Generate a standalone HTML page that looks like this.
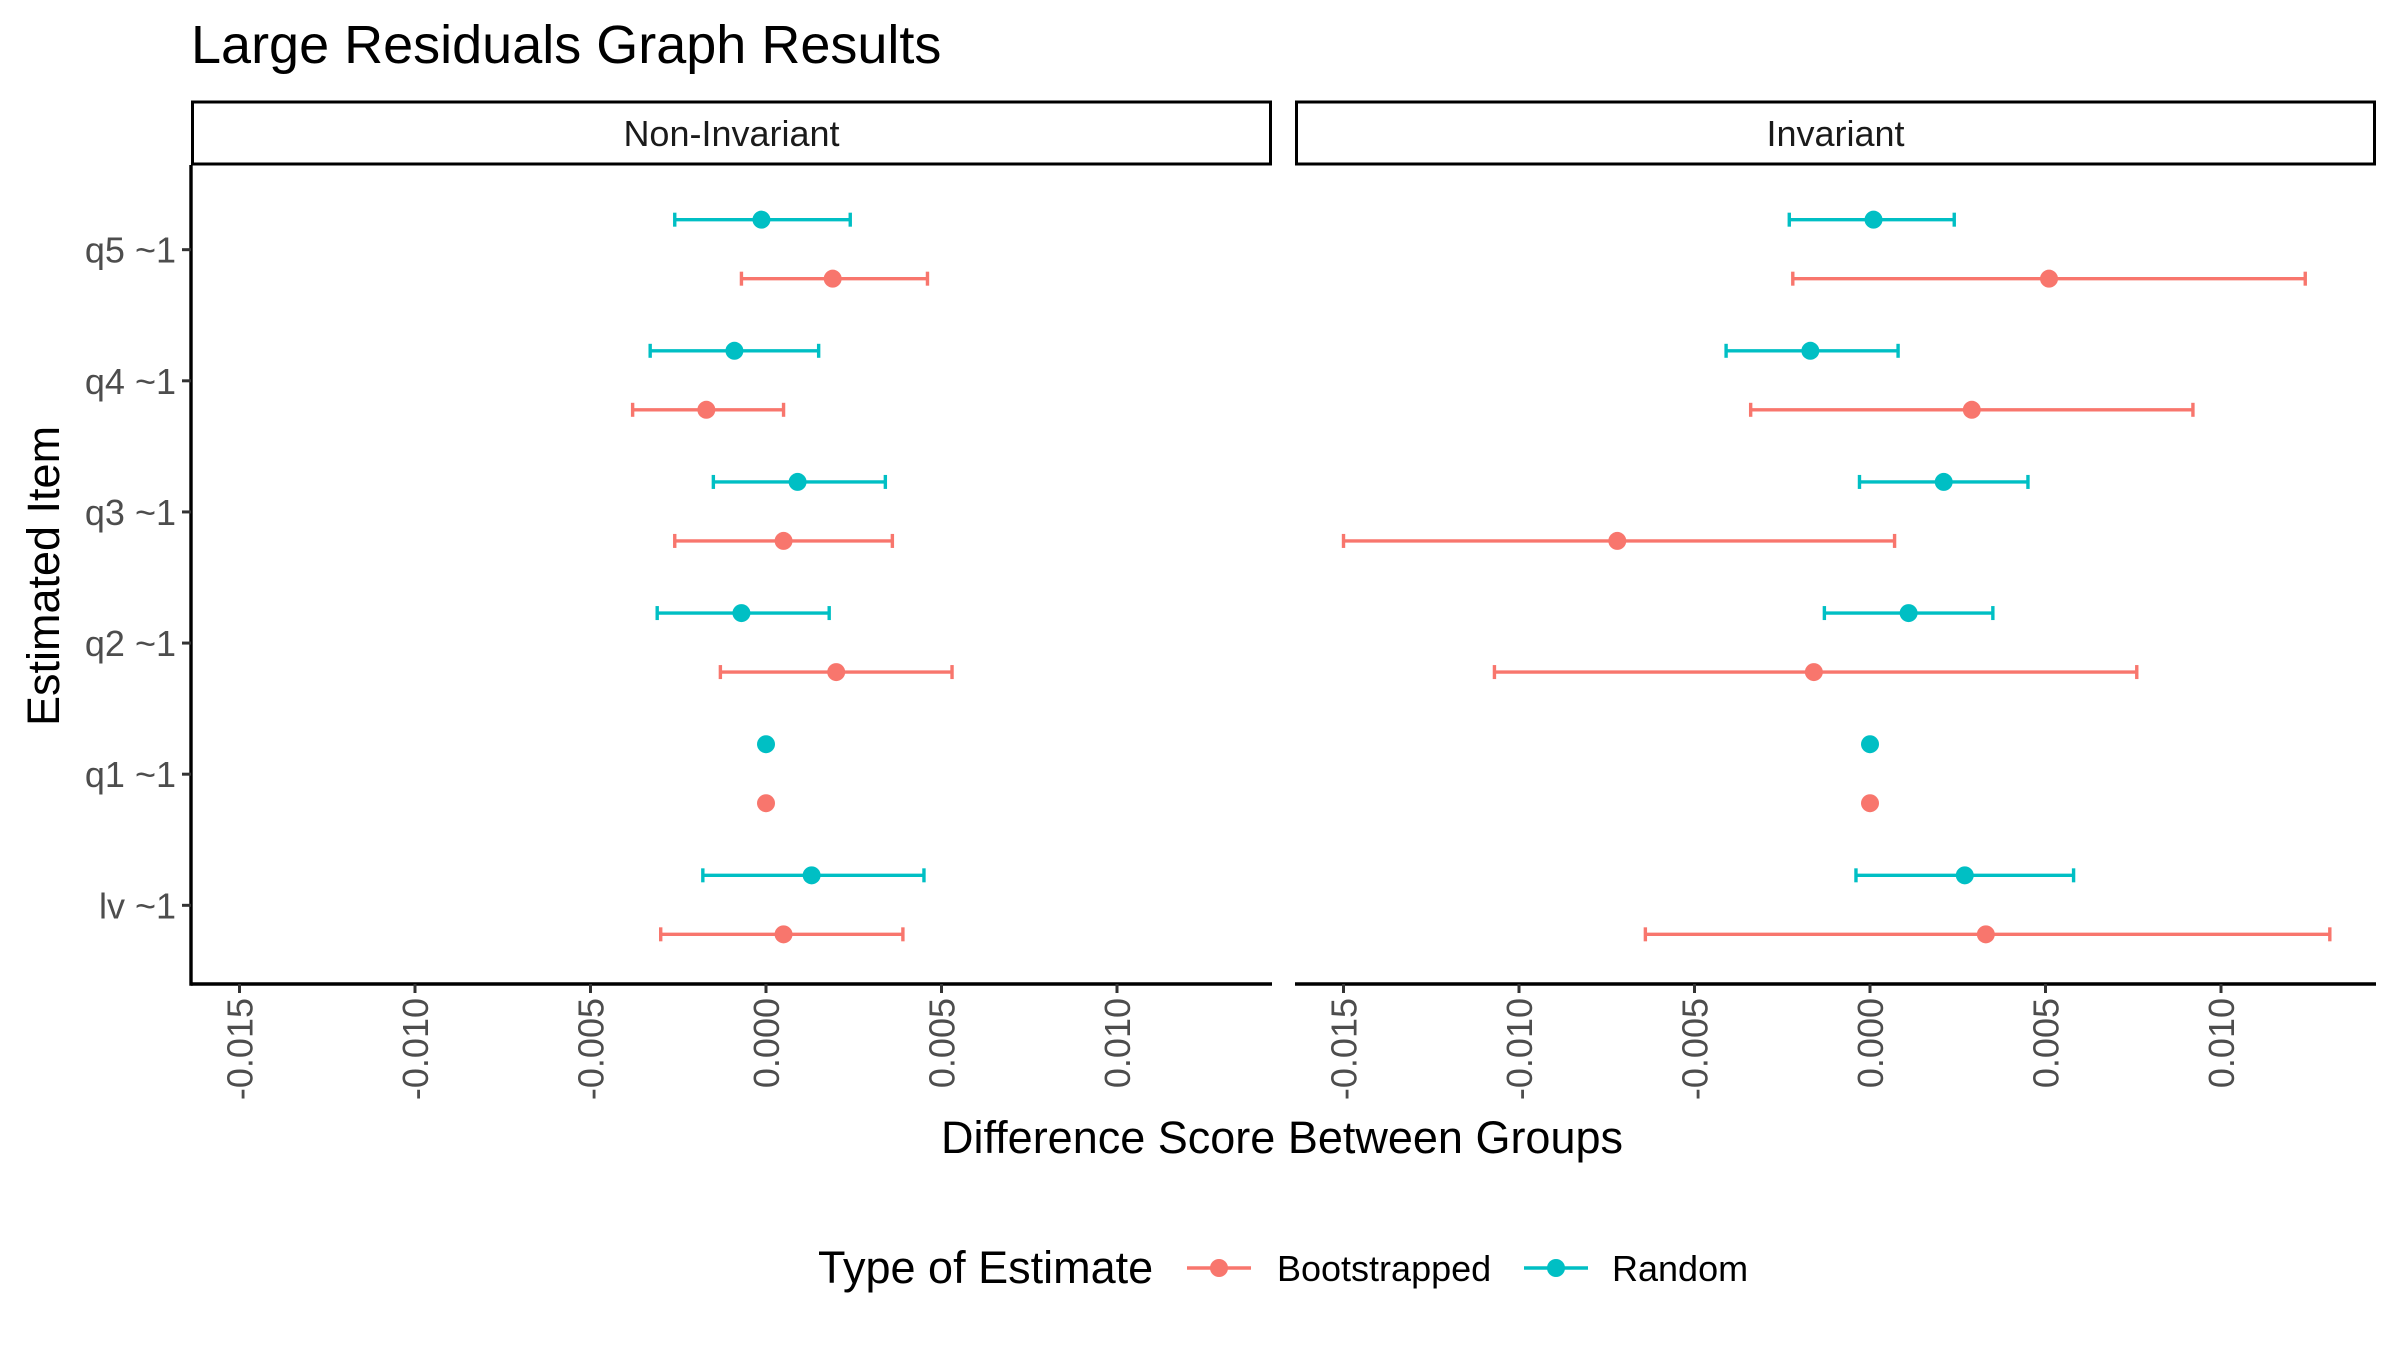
<!DOCTYPE html>
<html><head><meta charset="utf-8"><style>
html,body{margin:0;padding:0;background:#fff;}
svg{display:block;font-family:"Liberation Sans",sans-serif;}
</style></head><body>
<svg id="chart" width="2400" height="1349" viewBox="0 0 2400 1349">
<text x="191" y="63" font-size="54" fill="#000">Large Residuals Graph Results</text>
<g id="plot"></g>
<text x="1282" y="1153" font-size="45" text-anchor="middle" fill="#000">Difference Score Between Groups</text>
<text transform="translate(59,576) rotate(-90)" font-size="45" text-anchor="middle" fill="#000">Estimated Item</text>
<g>
<text x="818" y="1283" font-size="45" fill="#000">Type of Estimate</text>
<g>
<line x1="1187" y1="1268" x2="1251" y2="1268" stroke="#F8766D" stroke-width="3.4"/>
<circle cx="1219" cy="1268" r="9" fill="#F8766D"/>
<text x="1277" y="1281" font-size="36" fill="#000">Bootstrapped</text>
</g>
<g>
<line x1="1524" y1="1268" x2="1588" y2="1268" stroke="#00BFC4" stroke-width="3.4"/>
<circle cx="1556" cy="1268" r="9" fill="#00BFC4"/>
<text x="1612" y="1281" font-size="36" fill="#000">Random</text>
</g>
</g>
</svg>
<script>
const categories = ["lv ~1","q1 ~1","q2 ~1","q3 ~1","q4 ~1","q5 ~1"];
const panels = ["Non-Invariant","Invariant"];
const xTicks = [-0.015,-0.010,-0.005,0.000,0.005,0.010];
const xTickLabels = ["-0.015","-0.010","-0.005","0.000","0.005","0.010"];
// Non-Invariant
const nonInvRandomEst = [0.0013,0,-0.0007,0.0009,-0.0009,-0.00013];
const nonInvRandomLo  = [-0.0018,0,-0.0031,-0.0015,-0.0033,-0.0026];
const nonInvRandomHi  = [0.0045,0,0.0018,0.0034,0.0015,0.0024];
const nonInvBootEst = [0.0005,0,0.0020,0.0005,-0.0017,0.0019];
const nonInvBootLo  = [-0.0030,0,-0.0013,-0.0026,-0.0038,-0.0007];
const nonInvBootHi  = [0.0039,0,0.0053,0.0036,0.0005,0.0046];
// Invariant
const invRandomEst = [0.0027,0,0.0011,0.0021,-0.0017,0.0001];
const invRandomLo  = [-0.0004,0,-0.0013,-0.0003,-0.0041,-0.0023];
const invRandomHi  = [0.0058,0,0.0035,0.0045,0.0008,0.0024];
const invBootEst = [0.0033,0,-0.0016,-0.0072,0.0029,0.0051];
const invBootLo  = [-0.0064,0,-0.0107,-0.0150,-0.0034,-0.0022];
const invBootHi  = [0.0131,0,0.0076,0.0007,0.0092,0.0124];

const NS="http://www.w3.org/2000/svg";
const plot=document.getElementById('plot');
const RED="#F8766D", CYAN="#00BFC4";
const panelLeft=[191,1295], panelW=1081, pTop=165, pBot=984;
const xmin=-0.016382, pxPerUnit=35100;
function xs(p,v){return panelLeft[p]+(v-xmin)*pxPerUnit;}
function ys(i){const top=171;const step=(pBot-top)/(categories.length-1+1.2);return pBot-(0.6+i)*step;}
function mk(tag,attrs,parent){const e=document.createElementNS(NS,tag);for(const k in attrs)e.setAttribute(k,attrs[k]);(parent||plot).appendChild(e);return e;}

const series=[
 [[nonInvRandomEst,nonInvRandomLo,nonInvRandomHi,CYAN,-30,'random'],[nonInvBootEst,nonInvBootLo,nonInvBootHi,RED,29,'bootstrapped']],
 [[invRandomEst,invRandomLo,invRandomHi,CYAN,-30,'random'],[invBootEst,invBootLo,invBootHi,RED,29,'bootstrapped']]
];

panels.forEach((name,p)=>{
  const L=panelLeft[p];
  const strip=mk('rect',{x:L+1.5,y:102,width:panelW-3,height:62,fill:'#fff',stroke:'#000','stroke-width':3});
  
  
  const st=mk('text',{x:L+panelW/2,y:146,'font-size':36,'text-anchor':'middle',fill:'#1a1a1a'});
  st.textContent=name;
  
  
  const xa=mk('line',{x1:L,y1:pBot,x2:L+panelW,y2:pBot,stroke:'#000','stroke-width':3.4});
  
  
  xTicks.forEach((t,k)=>{
    const x=xs(p,t);
    const tk=mk('line',{x1:x,y1:pBot,x2:x,y2:pBot+9,stroke:'#333','stroke-width':3});
    
    
    const tl=mk('text',{transform:`translate(${x+13},${pBot+14}) rotate(-90)`,'font-size':36,'text-anchor':'end',fill:'#4d4d4d'});
    tl.textContent=xTickLabels[k];
    
    
  });
  if(p===0){
    const ya=mk('line',{x1:L,y1:pTop,x2:L,y2:pBot+1.7,stroke:'#000','stroke-width':3.4});
    
    
    categories.forEach((c,i)=>{
      const y=ys(i);
      const tk=mk('line',{x1:L-9,y1:y,x2:L,y2:y,stroke:'#333','stroke-width':3});
      
      
      const tl=mk('text',{x:L-15,y:y+13,'font-size':36,'text-anchor':'end',fill:'#4d4d4d'});
      tl.textContent=c;
      
      
    });
  }
  series[p].forEach(([est,lo,hi,col,off,nm])=>{
    categories.forEach((c,i)=>{
      const y=ys(i)+off;
      const g=mk('g',{});
      
      
      if(hi[i]!==lo[i]){
        mk('line',{x1:xs(p,lo[i]),y1:y,x2:xs(p,hi[i]),y2:y,stroke:col,'stroke-width':3.4},g);
        mk('line',{x1:xs(p,lo[i]),y1:y-7,x2:xs(p,lo[i]),y2:y+7,stroke:col,'stroke-width':3.4},g);
        mk('line',{x1:xs(p,hi[i]),y1:y-7,x2:xs(p,hi[i]),y2:y+7,stroke:col,'stroke-width':3.4},g);
      }
      mk('circle',{cx:xs(p,est[i]),cy:y,r:9,fill:col},g);
    });
  });
});
</script>
</body></html>
